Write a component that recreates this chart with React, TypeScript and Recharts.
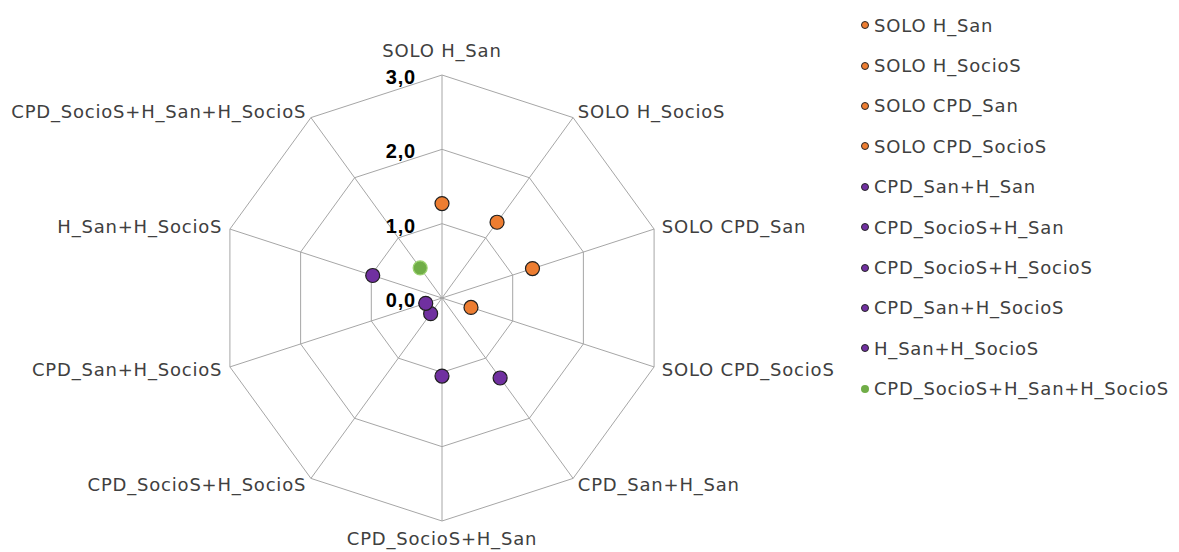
import * as React from "react"
import { RadarChart, Radar, PolarGrid, PolarAngleAxis, PolarRadiusAxis, Legend } from "recharts"

// ─── Data ─────────────────────────────────────────────────────────────────────
const categories = [
  "SOLO H_San",
  "SOLO H_SocioS",
  "SOLO CPD_San",
  "SOLO CPD_SocioS",
  "CPD_San+H_San",
  "CPD_SocioS+H_San",
  "CPD_SocioS+H_SocioS",
  "CPD_San+H_SocioS",
  "H_San+H_SocioS",
  "CPD_SocioS+H_San+H_SocioS",
]
const values = [1.27, 1.26, 1.28, 0.41, 1.33, 1.05, 0.26, 0.23, 0.98, 0.5]
const radiusTicks = [0, 1, 2, 3]

// one colour per series (Excel palette: orange / purple / green)
const ORANGE = "#ED7D31"
const PURPLE = "#7030A0"
const GREEN = "#70AD47"
const seriesColors = [ORANGE, ORANGE, ORANGE, ORANGE, PURPLE, PURPLE, PURPLE, PURPLE, PURPLE, GREEN]

const data = categories.map((name, i) => ({ name, value: values[i] }))

const FONT = "'Century Gothic', 'DejaVu Sans', sans-serif"
const TEXT = "#404040"
const CX = 442
const CY = 298

function AngleTick({ x, y, payload, textAnchor, index }: any) {
  let dy = 0
  if (index === 0) dy = -17
  if (index === 5) dy = 9
  return (
    <text x={x} y={y + dy} textAnchor={textAnchor} dominantBaseline="central"
      fontFamily={FONT} fontSize={18} letterSpacing={0.8} fill={TEXT}>
      {payload.value}
    </text>
  )
}

function RadiusTick({ y, payload }: any) {
  return (
    <text x={CX - 26} y={y + 2} textAnchor="end" dominantBaseline="central"
      fontFamily="'Liberation Sans', Arial, sans-serif" fontSize={20} fontWeight="bold"
      letterSpacing={0.8} fill="#000">
      {Number(payload.value).toFixed(1).replace(".", ",")}
    </text>
  )
}

function Dot(props: any) {
  const { cx, cy, index } = props
  const c = seriesColors[index]
  const isGreen = c === GREEN
  return (
    <circle cx={cx} cy={cy} r={7} fill={c}
      stroke={isGreen ? "#9BD26F" : "#1F1F1F"} strokeWidth={1.2} />
  )
}

function LegendList() {
  return (
    <div style={{ fontFamily: FONT, fontSize: 18, letterSpacing: 0.8, color: TEXT }}>
      {categories.map((name, i) => (
        <div key={name} style={{ height: 40.4, display: "flex", alignItems: "center" }}>
          <span style={{
            width: 8, height: 8, borderRadius: "50%", background: seriesColors[i],
            border: seriesColors[i] === GREEN ? "none" : "1px solid #262626",
            boxSizing: "border-box", marginRight: 5, display: "inline-block",
          }} />
          <span>{name}</span>
        </div>
      ))}
    </div>
  )
}

export default function App() {
  return (
    <div style={{ position: "absolute", left: 0, top: 0, width: 1179, height: 552, background: "#fff" }}>
      <RadarChart width={1179} height={552} data={data} cx={CX} cy={CY} outerRadius={223}
        startAngle={90} endAngle={-270}>
        <PolarGrid gridType="polygon" stroke="#A6A6A6" strokeWidth={1} />
        <PolarAngleAxis dataKey="name" tick={<AngleTick />} tickLine={false} axisLine={false} />
        <PolarRadiusAxis angle={90} domain={[0, 3]} ticks={radiusTicks as any} tickCount={4}
          axisLine={false} tick={<RadiusTick />} />
        <Radar dataKey="value" stroke="none" fill="none" dot={<Dot />} isAnimationActive={false} />
        <Legend layout="vertical" align="right" verticalAlign="top"
          wrapperStyle={{ left: 861, top: 5, width: 318 }} content={<LegendList />} />
      </RadarChart>
    </div>
  )
}
